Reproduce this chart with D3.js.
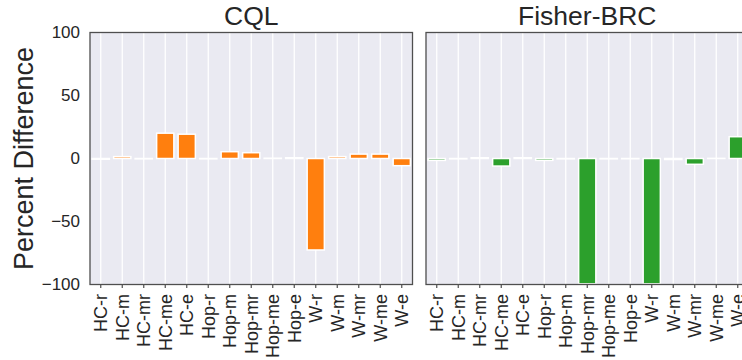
<!DOCTYPE html>
<html>
<head>
<meta charset="utf-8">
<script src="https://cdn.jsdelivr.net/npm/d3@7"></script>
<style>
  html, body { margin: 0; padding: 0; background: #fff; }
  svg { display: block; font-family: "Liberation Sans", Arial, sans-serif; }
</style>
</head>
<body>
<div id="chart"></div>
<script>
// --- data ---
const categories = ['HC-r', 'HC-m', 'HC-mr', 'HC-me', 'HC-e', 'Hop-r', 'Hop-m', 'Hop-mr',
    'Hop-me', 'Hop-e', 'W-r', 'W-m', 'W-mr', 'W-me', 'W-e'];
const cqlValues = [-0.6, 1.5, -0.3, 20.1, 19.3, -0.3, 5.4, 4.6, 0.2, 0.6, -72.6, 1.5, 3.5, 3.5, -5.7];
const fisherValues = [-1.5, -0.3, 0.6, -6.0, 0.6, -1.5, -0.3, -99.5, -0.3, -0.2, -99.5, -0.8, -4.6, 0.1, 17.3];
const yTicks = [-100, -50, 0, 50, 100];
const panels = [
    { title: 'CQL', values: cqlValues, color: '#ff7f0e' },
    { title: 'Fisher-BRC', values: fisherValues, color: '#2ca02c' }
];

// --- layout ---
const W = 742, H = 360;
const plotTop = 32.5, plotBottom = 284.5;
const panelW = 322.5;
const panelX = [90, 426];
const textColor = '#262626';
const spineColor = '#4f4f4f';

const svg = d3.select('#chart').append('svg')
    .attr('width', W)
    .attr('height', H);

const y = d3.scaleLinear().domain([-100, 100]).range([plotBottom, plotTop]);

panels.forEach((p, i) => {
    const g = svg.append('g').attr('transform', `translate(${panelX[i]},0)`);

    const x = d3.scaleBand()
        .domain(categories)
        .range([0, panelW])
        .paddingInner(0.2)
        .paddingOuter(0.1);

    // background
    g.append('rect')
        .attr('x', 0).attr('y', plotTop)
        .attr('width', panelW).attr('height', plotBottom - plotTop)
        .attr('fill', '#eaeaf2');

    // vertical grid
    g.append('g').selectAll('line')
        .data(categories)
        .join('line')
        .attr('x1', d => x(d) + x.bandwidth() / 2)
        .attr('x2', d => x(d) + x.bandwidth() / 2)
        .attr('y1', plotTop).attr('y2', plotBottom)
        .attr('stroke', '#fff')
        .attr('stroke-width', 1.3);

    // bars (white edge like the seaborn style)
    g.append('g').selectAll('rect')
        .data(p.values.map((v, j) => ({ cat: categories[j], v })))
        .join('rect')
        .attr('x', d => x(d.cat))
        .attr('width', x.bandwidth())
        .attr('y', d => y(Math.max(0, d.v)))
        .attr('height', d => Math.abs(y(d.v) - y(0)))
        .attr('fill', p.color)
        .attr('stroke', '#fff')
        .attr('stroke-width', 1.5);

    // x axis
    const xAxis = g.append('g')
        .attr('transform', `translate(0,${plotBottom})`)
        .call(d3.axisBottom(x).tickSize(3.5).tickPadding(3.5));
    xAxis.select('.domain').remove();
    xAxis.selectAll('.tick line').attr('stroke', spineColor).attr('stroke-width', 1.2);
    xAxis.selectAll('.tick text')
        .attr('fill', textColor)
        .attr('font-size', 18)
        .attr('transform', 'rotate(-90)')
        .attr('text-anchor', 'end')
        .attr('x', -9.5)
        .attr('y', 0)
        .attr('dy', '0.35em');

    // y axis (labels only on first panel)
    if (i === 0) {
        const yAxis = g.append('g')
            .call(d3.axisLeft(y).tickValues(yTicks).tickSize(0).tickPadding(10)
                .tickFormat(d => d < 0 ? '\u2212' + Math.abs(d) : d));
        yAxis.select('.domain').remove();
        yAxis.selectAll('.tick text')
            .attr('fill', textColor)
            .attr('font-size', 17);
    }

    // spines
    g.append('rect')
        .attr('x', 0).attr('y', plotTop)
        .attr('width', panelW).attr('height', plotBottom - plotTop)
        .attr('fill', 'none')
        .attr('stroke', spineColor)
        .attr('stroke-width', 1.3);

    // title
    g.append('text')
        .attr('x', panelW / 2)
        .attr('y', 25)
        .attr('text-anchor', 'middle')
        .attr('fill', textColor)
        .attr('font-size', 26.5)
        .text(p.title);
});

// y label
svg.append('text')
    .attr('transform', `translate(33,${(plotTop + plotBottom) / 2}) rotate(-90)`)
    .attr('text-anchor', 'middle')
    .attr('fill', textColor)
    .attr('font-size', 27)
    .text('Percent Difference');
</script>
</body>
</html>
